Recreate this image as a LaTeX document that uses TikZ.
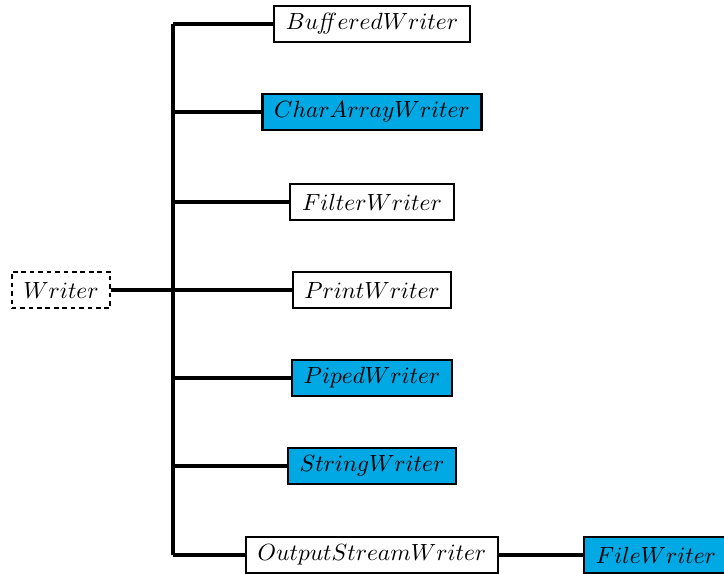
\documentclass[tikz,border=0pt]{standalone}
\usetikzlibrary{positioning}

\definecolor{implblue}{RGB}{0,168,228}

\begin{document}
\begin{tikzpicture}[x=0.015cm, y=-0.015cm,
  link/.style={line width=1.4pt},
  cls/.style={draw, line width=0.9pt, fill=white, minimum height=15.5pt, inner xsep=5pt},
  impl/.style={cls, fill=implblue},
  abstr/.style={cls, dash pattern=on 2pt off 1.6pt}]
\useasboundingbox (0,0) rectangle (724,573);
\clip (0,0) rectangle (724,573);
% trunk of the class tree
\coordinate (top) at (173,24);
\coordinate (bot) at (173,555);
\draw[link] (top) -- (bot);
% base class
\node[abstr] (writer) at (61,290) {$Writer$};
\draw[link] (writer) -- (writer -| top);
% subclasses
\node[cls]  (buffered)  at (372,24)  {$Bu\mathit{ff}eredWriter$};
\node[impl] (chararray) at (372,112) {$CharArrayWriter$};
\node[cls]  (filter)    at (372,202) {$FilterWriter$};
\node[cls]  (print)     at (372,290) {$PrintWriter$};
\node[impl] (piped)     at (372,378) {$PipedWriter$};
\node[impl] (string)    at (372,466) {$StringWriter$};
\node[cls]  (outstream) at (372,555) {$OutputStreamWriter$};
\foreach \c in {buffered,chararray,filter,print,piped,string,outstream}
  \draw[link] (\c -| top) -- (\c);
% subclass of OutputStreamWriter
\node[impl] (file) at (656,555) {$FileWriter$};
\draw[link] (outstream) -- (file);
\end{tikzpicture}
\end{document}
